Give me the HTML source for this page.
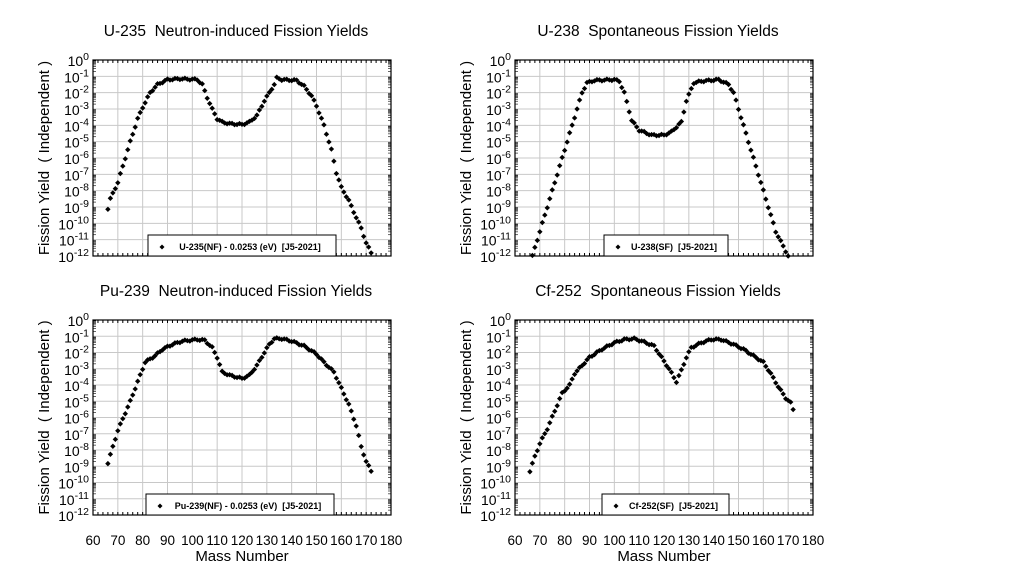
<!DOCTYPE html>
<html><head><meta charset="utf-8"><style>
body{margin:0;background:#fff;width:1024px;height:576px;overflow:hidden}
svg{font-family:"Liberation Sans",sans-serif}
text{white-space:pre}
</style></head><body>
<svg id="s" width="1024" height="576" xmlns="http://www.w3.org/2000/svg"></svg>
<script>
const S=document.getElementById('s');let h='';
const panels=[
{ox:0,top:60,bot:256,title:"U-235  Neutron-induced Fission Yields",leg:"U-235(NF) - 0.0253 (eV)  [J5-2021]",lx:148,lw:188,xl:false,
d:[[66,-9.1],[67,-8.5],[70,-7.5],[72,-6.5],[75,-5],[78,-3.6],[80,-2.9],[83,-2],[86,-1.5],[90,-1.2],[95,-1.15],[102,-1.2],[104,-1.5],[106,-2.3],[108,-3],[110,-3.6],[112,-3.8],[115,-3.9],[120,-3.95],[123,-3.8],[126,-3.4],[129,-2.5],[131,-2],[133,-1.5],[134,-1.1],[136,-1.2],[142,-1.25],[145,-1.6],[148,-2.2],[150,-2.8],[153,-4],[156,-5.5],[158,-6.9],[160,-7.8],[163,-8.6],[165,-9.3],[168,-10.3],[170,-11.2],[172,-11.8]]},
{ox:422,top:60,bot:256,title:"U-238  Spontaneous Fission Yields",leg:"U-238(SF)  [J5-2021]",lx:604,lw:124,xl:false,
d:[[67,-12],[70,-10.5],[75,-8],[80,-5.5],[85,-3],[87,-2],[89,-1.4],[92,-1.25],[100,-1.2],[102,-1.3],[104,-2],[107,-3.7],[110,-4.3],[115,-4.6],[120,-4.6],[123,-4.4],[127,-3.8],[129,-2.5],[132,-1.4],[135,-1.3],[142,-1.2],[146,-1.5],[148,-2],[152,-4],[156,-6],[160,-8],[165,-10.5],[170,-12]]},
{ox:0,top:320,bot:515,title:"Pu-239  Neutron-induced Fission Yields",leg:"Pu-239(NF) - 0.0253 (eV)  [J5-2021]",lx:146,lw:188,xl:true,
d:[[66,-8.8],[68,-7.8],[70,-6.8],[75,-5],[78,-3.8],[81,-2.6],[85,-2.2],[88,-1.8],[92,-1.5],[96,-1.3],[102,-1.2],[105,-1.25],[108,-1.7],[110,-2.3],[112,-3.2],[115,-3.4],[120,-3.6],[123,-3.4],[126,-2.8],[129,-2],[131,-1.5],[133,-1.15],[136,-1.15],[140,-1.3],[145,-1.6],[150,-2.1],[153,-2.6],[157,-3.2],[160,-4.2],[163,-5.2],[166,-6.5],[168,-7.8],[170,-8.7],[172,-9.3]]},
{ox:422,top:320,bot:515,title:"Cf-252  Spontaneous Fission Yields",leg:"Cf-252(SF)  [J5-2021]",lx:602,lw:127,xl:true,
d:[[66,-9.3],[68,-8.4],[70,-7.6],[73,-6.7],[76,-5.6],[79,-4.5],[82,-4],[84,-3.3],[87,-2.8],[90,-2.3],[95,-1.8],[100,-1.4],[104,-1.2],[108,-1.15],[112,-1.35],[116,-1.6],[119,-2.3],[122,-3],[125,-3.8],[127,-3.1],[129,-2.3],[131,-1.7],[135,-1.4],[139,-1.2],[143,-1.2],[148,-1.5],[152,-1.8],[156,-2.2],[160,-2.6],[163,-3.3],[166,-4.1],[169,-4.8],[171,-5.1],[172,-5.5]]}];
panels.forEach(p=>{
 const L=93+p.ox,R=391+p.ox,T=p.top,B=p.bot;
 const X=a=>L+(a-60)/120*(R-L), Y=v=>T+(-v)/12*(B-T);
 h+=`<text x="${(L+R)/2-6}" y="${T-24}" font-size="15.5" text-anchor="middle">${p.title}</text>`;
 for(let a=70;a<180;a+=10)h+=`<line x1="${X(a)}" y1="${T}" x2="${X(a)}" y2="${B}" stroke="#c8c8c8" stroke-width="1"/>`;
 for(let k=1;k<12;k++)h+=`<line x1="${L}" y1="${Y(-k)}" x2="${R}" y2="${Y(-k)}" stroke="#c8c8c8" stroke-width="1"/>`;
 for(let a=62;a<180;a+=2){h+=`<line x1="${X(a)}" y1="${T}" x2="${X(a)}" y2="${T+3}" stroke="#000"/><line x1="${X(a)}" y1="${B}" x2="${X(a)}" y2="${B-3}" stroke="#000"/>`;}
 for(let k=0;k<12;k++)for(let m=2;m<10;m++){const y=Y(-k-1+Math.log10(m));h+=`<line x1="${L}" y1="${y}" x2="${L+3}" y2="${y}" stroke="#000" stroke-width=".6"/><line x1="${R}" y1="${y}" x2="${R-3}" y2="${y}" stroke="#000" stroke-width=".6"/>`;}
 h+=`<rect x="${L}" y="${T}" width="${R-L}" height="${B-T}" fill="none" stroke="#000" stroke-width="1.2"/>`;
 for(let k=0;k<=12;k++){const e=k?"-"+k:"0";h+=`<text x="${L-4}" y="${Y(-k)+6}" font-size="14" text-anchor="end">10<tspan dy="-6" font-size="10.5">${e}</tspan></text>`;}
 h+=`<text transform="translate(${49+p.ox},${(T+B)/2}) rotate(-90)" font-size="15" text-anchor="middle">Fission Yield  ( Independent )</text>`;
 if(p.xl){for(let a=60;a<=180;a+=10)h+=`<text x="${X(a)}" y="${B+30}" font-size="13.5" text-anchor="middle">${a}</text>`;
  h+=`<text x="${(L+R)/2}" y="${B+46}" font-size="15" text-anchor="middle">Mass Number</text>`;}
 const d=p.d;
 for(let a=d[0][0];a<=d[d.length-1][0];a++){let v;for(let i=0;i<d.length-1;i++)if(a>=d[i][0]&&a<=d[i+1][0]){const t=(a-d[i][0])/(d[i+1][0]-d[i][0]);v=d[i][1]+t*(d[i+1][1]-d[i][1]);break;}
  v+=Math.sin(a*1.7)*0.05;const x=X(a),y=Y(v);h+=`<path d="M${x} ${y-2.7}L${x+2.7} ${y}L${x} ${y+2.7}L${x-2.7} ${y}Z"/>`;}
 h+=`<rect x="${p.lx}" y="${B-21}" width="${p.lw}" height="21" fill="#fff" stroke="#000" stroke-width="1"/>`;
 const dx=p.lx+14,dy=B-9;h+=`<path d="M${dx} ${dy-2.5}L${dx+2.5} ${dy}L${dx} ${dy+2.5}L${dx-2.5} ${dy}Z"/>`;
 h+=`<text x="${p.lx+p.lw/2+8}" y="${B-6}" font-size="9" font-weight="bold" text-anchor="middle">${p.leg}</text>`;
});
S.innerHTML=h;
</script>
</body></html>
